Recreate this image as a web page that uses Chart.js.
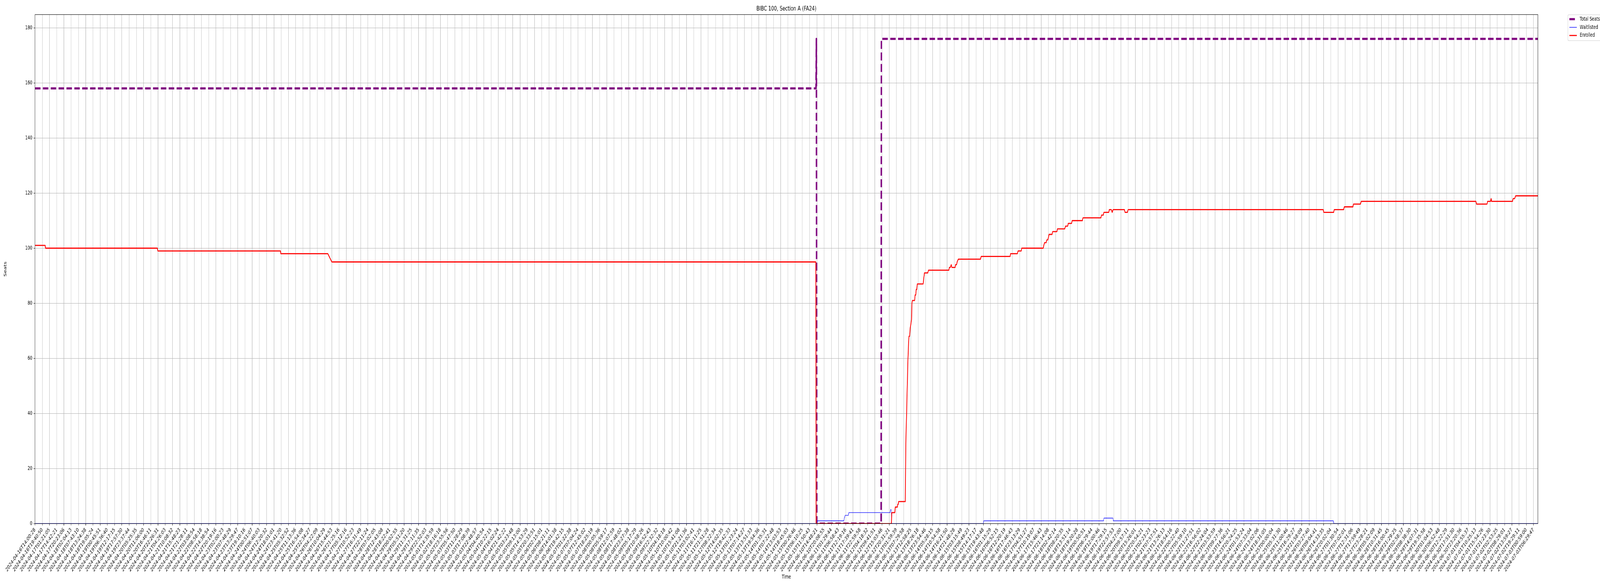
<!DOCTYPE html>
<html>
<head>
<meta charset="utf-8">
<title>BIBC 100, Section A (FA24)</title>
<script src="https://cdn.jsdelivr.net/npm/chart.js@4.4.1/dist/chart.umd.min.js"></script>
<style>
  html, body { margin:0; padding:0; background:#fff; overflow:hidden; }
  canvas { display:block; }
</style>
</head>
<body>
<canvas id="seatsChart" width="6000" height="1500"></canvas>
<script>
// --------- Daten (x = Position in Tick-Abständen, y = Plätze) ---------
const tickLabels = [
  '2024-04-16T14:00:28','2024-04-16T19:40:50','2024-04-17T01:21:05','2024-04-17T14:42:21','2024-04-17T20:23:06',
  '2024-04-18T02:04:13','2024-04-18T07:43:10','2024-04-18T13:24:38','2024-04-18T19:05:24','2024-04-19T00:45:51',
  '2024-04-19T06:36:40','2024-04-19T12:17:15','2024-04-19T17:57:30','2024-04-19T23:37:44','2024-04-20T05:25:35',
  '2024-04-20T11:06:00','2024-04-20T16:46:11','2024-04-20T22:26:31','2024-04-21T04:26:03','2024-04-21T10:08:32',
  '2024-04-21T15:48:23','2024-04-21T21:28:11','2024-04-22T03:08:54','2024-04-22T08:58:18','2024-04-22T14:38:54',
  '2024-04-22T20:19:16','2024-04-23T02:00:23','2024-04-23T07:48:29','2024-04-23T13:29:47','2024-04-23T19:10:16',
  '2024-04-24T00:51:07','2024-04-24T06:40:03','2024-04-24T12:20:32','2024-04-24T18:01:01','2024-04-24T23:41:20',
  '2024-04-25T05:32:52','2024-04-25T11:13:36','2024-04-25T16:54:08','2024-04-25T22:34:27','2024-04-26T04:22:09',
  '2024-04-26T10:04:29','2024-04-26T15:44:53','2024-04-26T21:25:16','2024-04-27T05:12:16','2024-04-27T10:52:23',
  '2024-04-27T16:31:49','2024-04-27T22:11:24','2024-04-28T07:02:05','2024-04-28T12:43:08','2024-04-28T18:22:41',
  '2024-04-29T00:02:55','2024-04-29T05:51:20','2024-04-29T11:31:25','2024-04-29T17:11:35','2024-04-29T22:52:03',
  '2024-05-01T14:35:59','2024-05-02T18:16:18','2024-05-02T23:55:56','2024-05-03T05:47:50','2024-05-03T11:28:29',
  '2024-05-03T17:08:39','2024-05-03T22:48:57','2024-05-04T04:40:54','2024-05-04T10:22:15','2024-05-04T16:02:24',
  '2024-05-04T21:42:22','2024-05-05T03:23:48','2024-05-05T09:13:00','2024-05-05T14:53:29','2024-05-05T20:33:51',
  '2024-05-06T02:15:01','2024-05-06T08:21:11','2024-05-06T14:01:38','2024-05-06T19:42:15','2024-05-07T01:22:38',
  '2024-05-07T07:04:24','2024-05-07T12:45:02','2024-05-07T18:25:19','2024-05-08T00:05:36','2024-05-08T05:59:17',
  '2024-05-08T12:07:59','2024-05-08T17:48:02','2024-05-08T23:27:38','2024-05-09T05:17:29','2024-05-09T10:58:26',
  '2024-05-09T16:52:43','2024-05-09T22:32:32','2024-05-10T04:18:18','2024-05-10T10:00:42','2024-05-10T15:41:08',
  '2024-05-10T21:21:36','2024-05-11T03:02:41','2024-05-11T16:11:25','2024-05-11T21:51:28','2024-05-12T08:22:34',
  '2024-05-12T14:02:35','2024-05-12T19:42:33','2024-05-13T01:23:24','2024-05-13T07:14:27','2024-05-13T13:51:33',
  '2024-05-13T19:54:36','2024-05-14T01:35:31','2024-05-14T07:22:48','2024-05-14T13:03:53','2024-05-14T18:45:03',
  '2024-05-15T00:26:46','2024-05-15T06:10:25','2024-05-15T11:50:43','2024-06-10T14:48:21','2024-06-10T20:08:55',
  '2024-06-11T01:29:44','2024-06-11T06:58:43','2024-06-11T12:19:16','2024-06-11T17:39:41','2024-06-11T22:59:58',
  '2024-06-12T04:18:32','2024-06-12T09:41:51','2024-06-12T15:03:46','2024-06-12T20:31:21','2024-06-13T01:59:39',
  '2024-06-13T07:29:58','2024-06-13T12:58:25','2024-06-13T18:26:18','2024-06-13T23:54:46','2024-06-14T05:28:15',
  '2024-06-14T10:54:58','2024-06-14T16:21:50','2024-06-14T21:48:28','2024-06-15T03:15:49','2024-06-15T08:49:23',
  '2024-06-15T14:17:17','2024-06-15T19:43:48','2024-06-16T01:15:29','2024-06-16T06:52:15','2024-06-16T12:20:19',
  '2024-06-16T17:46:43','2024-06-16T23:13:29','2024-06-17T04:51:27','2024-06-17T10:19:07','2024-06-17T15:46:43',
  '2024-06-17T21:14:08','2024-06-18T02:42:14','2024-06-18T08:20:35','2024-06-18T13:51:14','2024-06-18T19:20:28',
  '2024-06-19T00:50:51','2024-06-19T06:29:44','2024-06-19T12:00:46','2024-06-19T17:29:15','2024-06-19T22:57:53',
  '2024-06-20T04:27:00','2024-06-20T09:57:11','2024-06-20T15:26:01','2024-06-20T20:54:21','2024-06-21T02:23:23',
  '2024-06-21T07:57:51','2024-06-21T13:26:13','2024-06-21T18:54:16','2024-06-22T00:22:40','2024-06-22T05:59:10',
  '2024-06-22T11:27:51','2024-06-22T16:56:02','2024-06-22T22:24:04','2024-06-23T03:53:59','2024-06-23T09:27:36',
  '2024-06-23T14:56:21','2024-06-23T20:24:25','2024-06-24T01:53:24','2024-06-24T07:33:04','2024-06-24T13:02:06',
  '2024-06-24T18:31:05','2024-06-25T00:00:04','2024-06-25T05:31:30','2024-06-25T11:00:46','2024-06-25T16:29:27',
  '2024-06-25T21:58:09','2024-06-26T03:27:40','2024-06-26T09:04:41','2024-06-26T14:33:35','2024-06-26T20:02:04',
  '2024-06-27T01:30:54','2024-06-27T07:02:01','2024-06-27T12:31:06','2024-06-27T17:59:49','2024-06-27T23:28:21',
  '2024-06-28T05:02:09','2024-06-28T10:31:45','2024-06-28T16:00:45','2024-06-28T21:29:25','2024-06-29T02:58:37',
  '2024-06-29T08:38:30','2024-06-29T14:07:31','2024-06-29T19:35:58','2024-06-30T01:04:53','2024-06-30T06:52:48',
  '2024-06-30T12:22:29','2024-06-30T17:51:30','2024-06-30T23:20:36','2024-07-01T04:55:37','2024-07-01T10:25:13',
  '2024-07-01T15:54:26','2024-07-01T21:23:30','2024-07-02T02:53:25','2024-07-02T08:29:01','2024-07-02T13:59:27',
  '2024-07-02T19:29:11','2024-07-03T00:59:00','2024-07-03T06:29:47'
];

// Total Seats
const seatsX = [0, 107.88, 107.94, 108.0, 116.88, 116.92, 207.6];
const seatsY = [158, 158, 176, 0, 0, 176, 176];

// Waitlisted
const waitX = [0, 108.04, 108.1, 111.72, 111.8, 111.9, 112.36, 112.42, 118.11, 118.17, 118.28, 118.33,
               131.0, 131.06, 147.6, 147.66, 148.9, 148.96, 179.35, 179.41, 207.6];
const waitY = [0, 0, 1, 1, 2, 3, 3, 4, 4, 5, 5, 0,
               0, 1, 1, 2, 2, 1, 1, 0, 0];

// Enrolled
const enrolledX = [
  0, 1.4, 1.46, 16.9, 16.96, 33.9, 33.96, 40.45, 41.0, 107.85, 107.9,
  118.29, 118.36, 118.77, 118.84, 119.12, 119.18, 119.24, 119.30, 120.22,
  120.29, 120.41, 120.53, 120.59, 120.65, 120.72, 120.81, 120.90, 121.02, 121.08,
  121.14, 121.20, 121.51, 121.57, 121.66, 121.73, 121.80, 121.88, 122.68, 122.86,
  123.32, 123.42, 126.24, 126.3, 126.43, 126.57, 126.65, 127.1, 127.16, 127.3,
  127.38, 127.54, 130.6, 130.7, 134.7, 134.76, 135.7, 135.8, 136.24, 136.3,
  139.27, 139.35, 139.46, 139.68, 139.76, 139.9, 140.0, 140.08, 140.49, 140.57,
  141.16, 141.24, 142.24, 142.35, 142.65, 142.73, 143.19, 143.27, 144.68, 144.76,
  147.24, 147.32, 147.57, 147.65, 148.32, 148.4, 148.68, 148.8, 148.92, 150.49,
  150.57, 150.9, 151.0, 177.94, 178.03, 179.39, 179.47, 180.77, 180.86, 182.05,
  182.13, 183.09, 183.2, 199.04, 199.13, 200.57, 200.66, 201.06, 201.15, 201.2,
  204.1, 204.18, 204.39, 204.53, 207.6
];
const enrolledY = [
  101, 101, 100, 100, 99, 99, 98, 98, 95, 95, 0,
  0, 4, 4, 6, 6, 7, 7, 8, 8,
  29, 41, 54, 60, 64, 68, 68, 71, 73, 74,
  80, 81, 81, 83, 83, 85, 85, 87, 87, 91,
  91, 92, 92, 93, 93, 94, 93, 93, 94, 94,
  95, 96, 96, 97, 97, 98, 98, 99, 99, 100,
  100, 101, 102, 102, 103, 103, 104, 105, 105, 106,
  106, 107, 107, 108, 108, 109, 109, 110, 110, 111,
  111, 112, 112, 113, 113, 114, 114, 113, 114, 114,
  113, 113, 114, 114, 113, 113, 114, 114, 115, 115,
  116, 116, 117, 117, 116, 116, 117, 117, 118, 117,
  117, 118, 118, 119, 119
];

// --------- Helpers ---------
const FONT = '"DejaVu Sans", "Liberation Sans", sans-serif';
const pts = (xs, ys) => xs.map((x, i) => ({ x, y: ys[i] }));
const xMax = Math.max(...enrolledX, ...seatsX, ...waitX);
const yMax = Math.max(...seatsY, ...enrolledY) * 1.05;   // wie matplotlib-Autoscale (5 %)

const series = [
  { label: 'Total Seats', color: '#800080', width: 5.5, dash: [20.5, 9], data: pts(seatsX, seatsY), order: 3 },
  { label: 'Waitlisted',  color: '#0000ff', width: 1.4, dash: [],        data: pts(waitX, waitY),   order: 2 },
  { label: 'Enrolled',    color: '#ff0000', width: 2.8, dash: [],        data: pts(enrolledX, enrolledY), order: 1 }
];

// Rahmen um die Achsen (alle vier Seiten)
const axesFrame = {
  id: 'axesFrame',
  afterDatasetsDraw(chart) {
    const { ctx, chartArea: a } = chart;
    ctx.save();
    ctx.strokeStyle = '#000';
    ctx.lineWidth = 1.1;
    ctx.strokeRect(a.left, a.top, a.right - a.left, a.bottom - a.top);
    ctx.restore();
  }
};

// Legende rechts oben außerhalb der Achsen, mit Kasten
const boxLegend = {
  id: 'boxLegend',
  afterDraw(chart) {
    const { ctx, chartArea: a } = chart;
    const left = a.right + (a.right - a.left) * 0.02;
    const top = a.top + 0.4;
    const w = 160, h = 66.3, r = 3;
    ctx.save();
    ctx.beginPath();
    ctx.moveTo(left + r, top);
    ctx.lineTo(left + w - r, top);
    ctx.arcTo(left + w, top, left + w, top + r, r);
    ctx.lineTo(left + w, top + h - r);
    ctx.arcTo(left + w, top + h, left + w - r, top + h, r);
    ctx.lineTo(left + r, top + h);
    ctx.arcTo(left, top + h, left, top + h - r, r);
    ctx.lineTo(left, top + r);
    ctx.arcTo(left, top, left + r, top, r);
    ctx.closePath();
    ctx.fillStyle = 'rgba(255,255,255,0.8)';
    ctx.fill();
    ctx.strokeStyle = '#cccccc';
    ctx.lineWidth = 1.1;
    ctx.stroke();

    ctx.font = '13.9px ' + FONT;
    ctx.textBaseline = 'middle';
    ctx.textAlign = 'left';
    series.forEach((s, i) => {
      const y = top + 11.3 + i * 20.9;
      ctx.beginPath();
      ctx.setLineDash(s.dash);
      ctx.lineCap = 'butt';
      ctx.strokeStyle = s.color;
      ctx.lineWidth = s.width;
      ctx.moveTo(left + 5.5, y);
      ctx.lineTo(left + 33.3, y);
      ctx.stroke();
      ctx.setLineDash([]);
      ctx.fillStyle = '#000';
      ctx.fillText(s.label, left + 44.4, y);
    });
    ctx.restore();
  }
};

const gridOpts = { color: '#b0b0b0', lineWidth: 1.1, tickColor: '#000', tickWidth: 1.1, tickLength: 5 };
const tickFont = { family: FONT, size: 13.9 };

const canvas = document.getElementById('seatsChart');

new Chart(canvas, {
  type: 'line',
  data: {
    datasets: series.map(s => ({
      label: s.label,
      data: s.data,
      borderColor: s.color,
      backgroundColor: s.color,
      borderWidth: s.width,
      borderDash: s.dash,
      borderCapStyle: 'butt',
      borderJoinStyle: 'round',
      pointRadius: 0,
      tension: 0,
      fill: false,
      clip: 0,
      order: s.order
    }))
  },
  options: {
    responsive: false,
    devicePixelRatio: 1,
    animation: false,
    layout: { padding: { left: 0, top: 0, right: 233, bottom: 0 } },
    plugins: {
      legend: { display: false },
      tooltip: { enabled: false },
      title: {
        display: true,
        text: 'BIBC 100, Section A (FA24)',
        fullSize: false,
        color: '#000',
        font: { family: FONT, size: 16.7, weight: 'normal' },
        padding: { top: 13, bottom: 4.3 }
      }
    },
    scales: {
      x: {
        type: 'linear',
        min: 0,
        max: xMax,
        offset: false,
        grid: gridOpts,
        border: { display: false },
        ticks: {
          stepSize: 1,
          autoSkip: false,
          includeBounds: false,
          maxRotation: 45,
          minRotation: 45,
          padding: 3,
          color: '#000',
          font: tickFont,
          callback: v => tickLabels[v] ?? ''
        },
        title: {
          display: true, text: 'Time', color: '#000',
          font: tickFont,
          padding: { top: 0, bottom: 14.7 }
        },
        afterFit: s => { s.height = 159.7; }
      },
      y: {
        type: 'linear',
        min: 0,
        max: yMax,
        grid: gridOpts,
        border: { display: false },
        ticks: {
          stepSize: 20,
          includeBounds: false,
          padding: 5,
          color: '#000',
          font: tickFont
        },
        title: {
          display: true, text: 'Seats', color: '#000',
          font: tickFont,
          padding: { top: 12, bottom: 0 }
        },
        afterFit: s => { s.width = 131.2; }
      }
    }
  },
  plugins: [axesFrame, boxLegend]
});

// Figur (6000x1500 entworfen) genau auf das Fenster ziehen
canvas.style.width = (window.innerWidth || 6000) + 'px';
canvas.style.height = (window.innerHeight || 1500) + 'px';
</script>
</body>
</html>
